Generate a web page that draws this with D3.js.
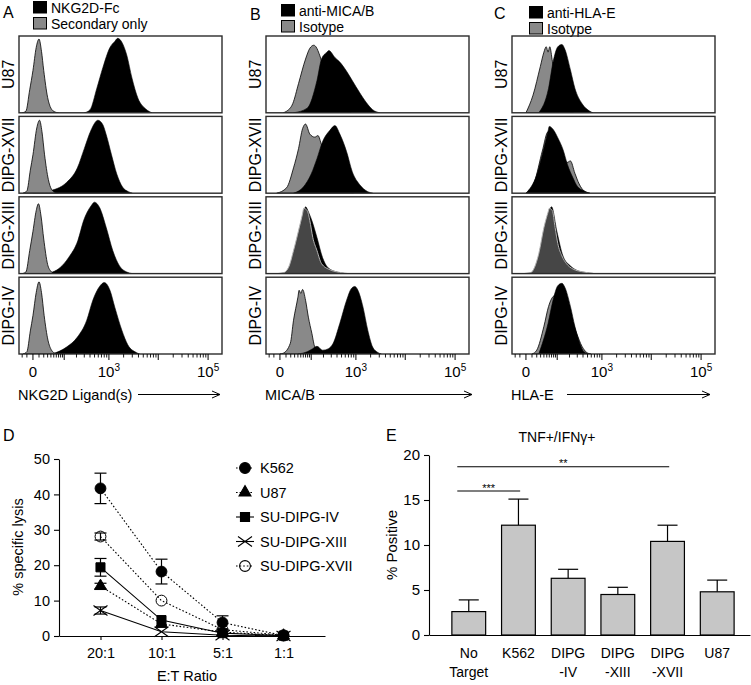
<!DOCTYPE html>
<html><head><meta charset="utf-8">
<script src="https://cdn.jsdelivr.net/npm/d3@7"></script>
<style>
body{margin:0;background:#fff}
text{font-family:"Liberation Sans",Arial,Helvetica,sans-serif;fill:#000}
</style>
</head><body>
<svg id="fig" width="751" height="685"></svg>
<script>
// ---------------- DATA ----------------
const cellLines = ["U87", "DIPG-XVII", "DIPG-XIII", "DIPG-IV"];
const flowMajorTicks = [0, 100, 1000, 10000, 100000];
const flowMinorTicks = [-20, -10, 10, 20, 30, 40, 50, 60, 70, 80, 90,
  200, 300, 400, 500, 600, 700, 800, 900,
  2000, 3000, 4000, 5000, 6000, 7000, 8000, 9000,
  20000, 30000, 40000, 50000, 60000, 70000, 80000, 90000];
const flowTickLabels = [[0, "0", ""], [1000, "10", "3"], [100000, "10", "5"]];

// histograms: [fluorescence, fraction of max] per cell line (U87, XVII, XIII, IV)
const nkg2dFc = [
  [[300,0],[400,0.04],[560,0.32],[750,0.59],[1050,0.85],[1320,0.93],[1520,0.97],[1840,0.92],[2320,0.75],[2960,0.45],[3900,0.19],[5600,0.05],[7500,0]],
  [[0,0],[20,0.02],[45,0.04],[115,0.14],[210,0.33],[300,0.58],[420,0.82],[590,0.95],[750,0.89],[880,0.76],[1130,0.5],[1450,0.25],[1900,0.08],[2500,0.02],[3000,0]],
  [[20,0],[45,0.02],[78,0.08],[130,0.21],[215,0.43],[290,0.69],[420,0.88],[500,0.93],[640,0.86],[880,0.6],[1200,0.3],[1650,0.1],[2320,0.02],[3000,0]],
  [[45,0],[115,0.09],[210,0.22],[340,0.44],[460,0.7],[640,0.88],[800,0.93],[1050,0.83],[1320,0.61],[1840,0.31],[2430,0.12],[3600,0.02],[4200,0]]
];
const nkg2dSecondary = [
  [[-20,0],[-12,0.02],[-5,0.3],[0,0.55],[5,0.85],[10,0.96],[15,0.8],[20,0.55],[30,0.2],[40,0.06],[55,0.01],[70,0]],
  [[-18,0],[-10,0.03],[-4,0.3],[0,0.5],[6,0.85],[11,0.95],[16,0.8],[22,0.5],[32,0.18],[42,0.05],[55,0.01],[70,0]],
  [[-20,0],[-12,0.02],[-5,0.3],[0,0.55],[5,0.82],[9,0.91],[14,0.75],[20,0.45],[30,0.12],[40,0.03],[50,0]],
  [[-18,0],[-10,0.03],[-4,0.3],[0,0.5],[5,0.8],[10,0.94],[15,0.8],[21,0.5],[31,0.18],[42,0.05],[55,0.01],[70,0]]
];
const antiMICAB = [
  [[27,0],[78,0.06],[140,0.42],[180,0.7],[240,0.79],[265,0.81],[360,0.72],[460,0.66],[640,0.54],[840,0.42],[1200,0.26],[1650,0.13],[2200,0.04],[3070,0]],
  [[27,0],[60,0.08],[100,0.25],[140,0.45],[190,0.67],[280,0.82],[360,0.88],[460,0.77],[640,0.54],[840,0.28],[1200,0.11],[1750,0.02],[2200,0]],
  [[-5,0],[8,0.01],[18,0.08],[30,0.3],[47,0.56],[62,0.78],[70,0.87],[85,0.8],[104,0.69],[140,0.47],[190,0.21],[250,0.08],[400,0.02],[600,0]],
  [[40,0],[78,0.03],[110,0.07],[140,0.1],[190,0.05],[260,0.07],[330,0.14],[460,0.4],[640,0.7],[800,0.85],[950,0.88],[1100,0.83],[1400,0.61],[1750,0.31],[2200,0.09],[2800,0.02],[3300,0]]
];
const micabIsotype = [
  [[5,0],[11,0.02],[25,0.12],[42,0.38],[70,0.7],[92,0.84],[117,0.88],[132,0.86],[165,0.74],[220,0.5],[300,0.25],[450,0.08],[650,0.01],[800,0]],
  [[-5,0],[11,0.07],[27,0.33],[42,0.58],[57,0.84],[70,0.9],[92,0.77],[124,0.73],[148,0.75],[180,0.63],[260,0.4],[400,0.15],[600,0.04],[900,0]],
  [[-5,0],[5,0.01],[15,0.08],[27,0.3],[42,0.56],[57,0.78],[62,0.85],[78,0.82],[92,0.69],[110,0.47],[140,0.3],[180,0.13],[280,0.05],[530,0.01],[700,0]],
  [[0,0],[5,0.01],[19,0.14],[27,0.44],[40,0.74],[44,0.83],[50,0.79],[57,0.84],[70,0.7],[84,0.48],[104,0.27],[124,0.09],[165,0.02],[220,0]]
];
const antiHLAE = [
  [[25,0],[57,0.32],[78,0.67],[104,0.86],[132,0.89],[155,0.83],[210,0.56],[265,0.32],[380,0.12],[560,0.02],[650,0]],
  [[0,0],[20,0.24],[40,0.59],[55,0.81],[60,0.87],[78,0.83],[104,0.72],[140,0.57],[180,0.37],[240,0.2],[300,0.09],[420,0.03],[550,0]],
  [[-5,0],[9,0.01],[27,0.26],[43,0.6],[58,0.8],[70,0.87],[98,0.55],[140,0.23],[210,0.1],[300,0.04],[500,0.01],[700,0]],
  [[25,0],[55,0.4],[78,0.71],[104,0.89],[132,0.92],[155,0.87],[210,0.62],[265,0.36],[340,0.14],[420,0.03],[550,0]]
];
const hlaeIsotype = [
  [[0,0],[12,0.23],[29,0.6],[40,0.79],[48,0.86],[55,0.79],[62,0.86],[74,0.67],[90,0.45],[115,0.2],[150,0.06],[200,0.01],[250,0]],
  [[0,0],[15,0.15],[35,0.55],[55,0.8],[75,0.75],[105,0.65],[140,0.5],[175,0.4],[210,0.42],[265,0.26],[330,0.12],[420,0.03],[560,0]],
  [[-5,0],[7,0.01],[25,0.26],[40,0.6],[55,0.8],[60,0.85],[74,0.82],[88,0.6],[104,0.39],[132,0.23],[170,0.13],[240,0.06],[420,0.02],[700,0]],
  [[10,0],[20,0.05],[40,0.36],[57,0.62],[78,0.75],[104,0.78],[140,0.7],[210,0.5],[290,0.27],[380,0.1],[480,0.02],[590,0]]
];

// Panel D: cytotoxicity
const etRatios = ["20:1", "10:1", "5:1", "1:1"];
const lysisNames = ["K562", "U87", "SU-DIPG-IV", "SU-DIPG-XIII", "SU-DIPG-XVII"];
const lysisK562 = [41.7, 18.2, 3.8, 0.1];
const lysisK562Err = [4.3, 3.5, 1.9, 0.3];
const lysisU87 = [14.1, 3.4, 1.1, 0.1];
const lysisU87Err = [0.8, 0.5, 0.3, 0.2];
const lysisIV = [19.4, 4.5, 0.8, 0.1];
const lysisIVErr = [2.5, 0.6, 0.3, 0.2];
const lysisXIII = [7.2, 1.2, 0.2, 0.0];
const lysisXIIIErr = [1.0, 0.4, 0.2, 0.1];
const lysisXVII = [28.1, 10.0, 1.8, 0.2];
const lysisXVIIErr = [1.0, 0.6, 0.5, 0.2];
const lysisYTicks = [0, 10, 20, 30, 40, 50];

// Panel E: TNF+/IFNg+
const stimTargets = ["No Target", "K562", "DIPG-IV", "DIPG-XIII", "DIPG-XVII", "U87"];
const stimLabels = [["No", "Target"], ["K562"], ["DIPG", "-IV"], ["DIPG", "-XIII"], ["DIPG", "-XVII"], ["U87"]];
const pctPositive = [2.6, 12.2, 6.3, 4.5, 10.4, 4.8];
const pctErr = [1.3, 2.9, 1.0, 0.8, 1.8, 1.3];
const pctYTicks = [0, 5, 10, 15, 20];
const sigFrom = ["No Target", "No Target"];
const sigTo = ["K562", "DIPG-XVII"];
const sigLevel = [16.0, 18.7];
const sigStars = ["***", "**"];

// ---------------- DRAW ----------------
const svg = d3.select("#fig");
const grayFill = "#898989";

const histPanels = [
  {letter: "A", left: 19, letterX: 3, letterY: 18, legX: 33, legY: 1, legend: ["NKG2D-Fc", "Secondary only"],
   stain: nkg2dFc, ctrl: nkg2dSecondary, title: "NKG2D Ligand(s)", arrow: [138, 220], ctrlTop: [1, 1, 1, 1], dark: [0, 0, 0, 0]},
  {letter: "B", left: 266, letterX: 250, letterY: 20, legX: 281, legY: 4, legend: ["anti-MICA/B", "Isotype"],
   stain: antiMICAB, ctrl: micabIsotype, title: "MICA/B", arrow: [312, 472], ctrlTop: [0, 0, 1, 0], dark: [0, 0, 1, 0]},
  {letter: "C", left: 512, letterX: 494, letterY: 19, legX: 529, legY: 6, legend: ["anti-HLA-E", "Isotype"],
   stain: antiHLAE, ctrl: hlaeIsotype, title: "HLA-E", arrow: [567, 710], ctrlTop: [0, 0, 1, 0], dark: [0, 0, 1, 0]}
];
const boxW = 203;
const rowBand = d3.scaleBand().domain(cellLines).range([36, 354]).paddingInner(0.045);
const defs = svg.append("defs");

histPanels.forEach((p, pi) => {
  const g = svg.append("g");
  const x = d3.scaleSymlog().constant(31).domain([-28, 190000]).range([p.left, p.left + boxW]);
  g.append("text").attr("x", p.letterX).attr("y", p.letterY).attr("font-size", 16).text(p.letter);
  [0, 1].forEach(i => {
    g.append("rect").attr("x", p.legX + 0.5).attr("y", p.legY + i * 16 + 0.5).attr("width", 13).attr("height", 11.5)
      .attr("fill", i ? grayFill : "#000").attr("stroke", "#000").attr("stroke-width", 1);
    g.append("text").attr("x", p.legX + 18).attr("y", p.legY + i * 16 + 11.5).attr("font-size", 14).text(p.legend[i]);
  });

  cellLines.forEach((cl, ri) => {
    const top = rowBand(cl), h = rowBand.bandwidth(), bottom = top + h;
    const y = d3.scaleLinear().domain([0, 1]).range([bottom, top]);
    const cid = "clip" + pi + "_" + ri;
    defs.append("clipPath").attr("id", cid).append("rect").attr("x", p.left).attr("y", top).attr("width", boxW).attr("height", h);
    const area = d3.area().x(d => x(d[0])).y0(bottom).y1(d => y(Math.max(0, d[1]))).curve(d3.curveMonotoneX);
    const cg = g.append("g").attr("clip-path", "url(#" + cid + ")");
    const drawStain = () => cg.append("path").attr("d", area(p.stain[ri])).attr("fill", "#000").attr("stroke", "#000").attr("stroke-width", 0.6);
    const drawCtrl = () => {
      const dark = p.dark[ri];
      cg.append("path").attr("d", area(p.ctrl[ri]))
        .attr("fill", dark ? "#464646" : grayFill)
        .attr("stroke", dark ? "#b4b4b4" : "#000")
        .attr("stroke-width", dark ? 1 : 0.8);
    };
    if (p.ctrlTop[ri]) { drawStain(); drawCtrl(); } else { drawCtrl(); drawStain(); }
    g.append("rect").attr("x", p.left).attr("y", top).attr("width", boxW).attr("height", h)
      .attr("fill", "none").attr("stroke", "#2b2b2b").attr("stroke-width", 1.4);
    g.append("text").attr("transform", `translate(${p.left - 5},${top + h / 2}) rotate(-90)`)
      .attr("text-anchor", "middle").attr("font-size", 16).text(cl);
  });

  const axY = rowBand(cellLines[3]) + rowBand.bandwidth();
  g.selectAll(".mj").data(flowMajorTicks).join("line")
    .attr("x1", d => x(d)).attr("x2", d => x(d)).attr("y1", axY).attr("y2", axY + 6)
    .attr("stroke", "#000").attr("stroke-width", 1);
  g.selectAll(".mn").data(flowMinorTicks).join("line")
    .attr("x1", d => x(d)).attr("x2", d => x(d)).attr("y1", axY).attr("y2", axY + 3.5)
    .attr("stroke", "#000").attr("stroke-width", 0.9);
  flowTickLabels.forEach(t => {
    const tx = g.append("text").attr("x", x(t[0])).attr("y", 377).attr("text-anchor", "middle").attr("font-size", 15);
    tx.append("tspan").text(t[1]);
    if (t[2]) tx.append("tspan").attr("font-size", 10).attr("dy", -6).text(t[2]);
  });
  const tt = g.append("text").attr("x", p.left - 1).attr("y", 400).attr("font-size", 14.5).text(p.title);
  const tEnd = p.left - 1 + tt.node().getComputedTextLength();
  const a0 = Math.max(p.arrow[0], tEnd + 4);
  g.append("line").attr("x1", a0).attr("x2", p.arrow[1]).attr("y1", 394.5).attr("y2", 394.5).attr("stroke", "#000").attr("stroke-width", 1);
  g.append("path").attr("d", `M${p.arrow[1] - 8},${391} L${p.arrow[1]},${394.5} L${p.arrow[1] - 8},${398}`)
    .attr("fill", "none").attr("stroke", "#000").attr("stroke-width", 1);
});

// ---------- Panel D ----------
{
  const g = svg.append("g");
  g.append("text").attr("x", 3).attr("y", 441).attr("font-size", 16).text("D");
  const x = d3.scalePoint().domain(etRatios).range([59, 325]).padding(0.68);
  const y = d3.scaleLinear().domain([0, 50]).range([636, 459]);
  const ya = g.append("g").attr("transform", "translate(59,0)").call(d3.axisLeft(y).tickValues(lysisYTicks).tickSize(5).tickSizeOuter(0));
  ya.selectAll("text").attr("font-size", 14.5).attr("font-family", "Liberation Sans, Arial").attr("fill", "#000").attr("dx", -1);
  const xa = g.append("g").attr("transform", "translate(0,636)").call(d3.axisBottom(x).tickSize(4).tickSizeOuter(0));
  xa.selectAll("text").attr("font-size", 14.5).attr("font-family", "Liberation Sans, Arial").attr("fill", "#000").attr("dy", "1.05em");
  g.selectAll(".domain, .tick line").attr("stroke", "#000").attr("stroke-width", 1.1);
  g.append("text").attr("x", 187).attr("y", 681).attr("text-anchor", "middle").attr("font-size", 14.5).text("E:T Ratio");
  g.append("text").attr("transform", "translate(23,547) rotate(-90)").attr("text-anchor", "middle").attr("font-size", 14.5).text("% specific lysis");

  const series = [
    {vals: lysisK562, err: lysisK562Err, dash: "1.6,2", sym: "circle", fill: "#000"},
    {vals: lysisU87, err: lysisU87Err, dash: "1.6,2", sym: "triangle", fill: "#000"},
    {vals: lysisIV, err: lysisIVErr, dash: null, sym: "square", fill: "#000"},
    {vals: lysisXIII, err: lysisXIIIErr, dash: null, sym: "x", fill: "none"},
    {vals: lysisXVII, err: lysisXVIIErr, dash: "1.6,2", sym: "circle", fill: "none"}
  ];
  const symPath = s => {
    if (s.sym === "circle") return d3.symbol(d3.symbolCircle, 92)();
    if (s.sym === "triangle") return d3.symbol(d3.symbolTriangle, 62)();
    if (s.sym === "square") return d3.symbol(d3.symbolSquare, 82)();
    return "M-7,-5L7,5M-7,5L7,-5";
  };
  const line = d3.line().x((d, i) => x(etRatios[i])).y(d => y(d));
  const drawOrder = [4, 3, 2, 1, 0];
  drawOrder.forEach(si => {
    const s = series[si];
    g.append("path").attr("d", line(s.vals)).attr("fill", "none").attr("stroke", "#000")
      .attr("stroke-width", 1.1).attr("stroke-dasharray", s.dash);
  });
  drawOrder.forEach(si => {
    const s = series[si];
    s.vals.forEach((v, i) => {
      const cx = x(etRatios[i]);
      if (s.err[i] > 0.6) {
        g.append("line").attr("x1", cx).attr("x2", cx).attr("y1", y(v - s.err[i])).attr("y2", y(v + s.err[i])).attr("stroke", "#000").attr("stroke-width", 1.2);
        [v - s.err[i], v + s.err[i]].forEach(e => g.append("line").attr("x1", cx - 6).attr("x2", cx + 6).attr("y1", y(e)).attr("y2", y(e)).attr("stroke", "#000").attr("stroke-width", 1.2));
      }
      g.append("path").attr("d", symPath(s)).attr("transform", `translate(${cx},${y(v)})`)
        .attr("fill", s.fill).attr("stroke", "#000").attr("stroke-width", s.sym === "x" ? 1.1 : 1);
    });
  });
  // legend
  const legY = d3.scalePoint().domain(lysisNames).range([468, 566]);
  lysisNames.forEach((n, i) => {
    const s = series[i], ly = legY(n);
    g.append("line").attr("x1", 236).attr("x2", 254).attr("y1", ly).attr("y2", ly).attr("stroke", "#000").attr("stroke-width", 1.1).attr("stroke-dasharray", s.dash);
    g.append("path").attr("d", symPath(s)).attr("transform", `translate(245,${ly})`).attr("fill", s.fill).attr("stroke", "#000").attr("stroke-width", 1.1);
    g.append("text").attr("x", 260).attr("y", ly + 5).attr("font-size", 14.5).text(n);
  });
}

// ---------- Panel E ----------
{
  const g = svg.append("g");
  g.append("text").attr("x", 386).attr("y", 441).attr("font-size", 16).text("E");
  g.append("text").attr("x", 557).attr("y", 442).attr("text-anchor", "middle").attr("font-size", 14).text("TNF+/IFNγ+");
  const x = d3.scaleBand().domain(stimTargets).range([429, 750]).paddingInner(0.32).paddingOuter(0.39).align(0.59);
  const y = d3.scaleLinear().domain([0, 20]).range([635, 455]);
  const ya = g.append("g").attr("transform", "translate(429,0)").call(d3.axisLeft(y).tickValues(pctYTicks).tickSize(5).tickSizeOuter(0));
  ya.selectAll("text").attr("font-size", 15).attr("font-family", "Liberation Sans, Arial").attr("fill", "#000").attr("dx", -1);
  const xa = g.append("g").attr("transform", "translate(0,635)").call(d3.axisBottom(x).tickSize(0).tickSizeOuter(0).tickFormat(""));
  g.selectAll(".domain, .tick line").attr("stroke", "#000").attr("stroke-width", 1.1);
  g.append("text").attr("transform", "translate(397,545) rotate(-90)").attr("text-anchor", "middle").attr("font-size", 15).text("% Positive");

  stimTargets.forEach((t, i) => {
    const bx = x(t), bw = x.bandwidth(), cx = bx + bw / 2;
    g.append("line").attr("x1", cx).attr("x2", cx).attr("y1", y(pctPositive[i])).attr("y2", y(pctPositive[i] + pctErr[i])).attr("stroke", "#000").attr("stroke-width", 1.2);
    g.append("line").attr("x1", cx - 10).attr("x2", cx + 10).attr("y1", y(pctPositive[i] + pctErr[i])).attr("y2", y(pctPositive[i] + pctErr[i])).attr("stroke", "#000").attr("stroke-width", 1.2);
    g.append("rect").attr("x", bx).attr("y", y(pctPositive[i])).attr("width", bw).attr("height", y(0) - y(pctPositive[i]))
      .attr("fill", "#c6c6c6").attr("stroke", "#000").attr("stroke-width", 1.2);
    stimLabels[i].forEach((l, k) => g.append("text").attr("x", cx).attr("y", 658 + k * 19).attr("text-anchor", "middle").attr("font-size", 14).text(l));
  });
  sigFrom.forEach((f, i) => {
    const bw = x.bandwidth();
    const x1 = x(f) + bw * 0.16, x2 = x(sigTo[i]) + bw * 0.55, ly = y(sigLevel[i]);
    g.append("line").attr("x1", x1).attr("x2", x2).attr("y1", ly).attr("y2", ly).attr("stroke", "#000").attr("stroke-width", 1.1);
    g.append("text").attr("x", (x1 + x2) / 2).attr("y", ly + 0.5).attr("text-anchor", "middle").attr("font-size", 11).text(sigStars[i]);
  });
}
</script>
</body></html>
